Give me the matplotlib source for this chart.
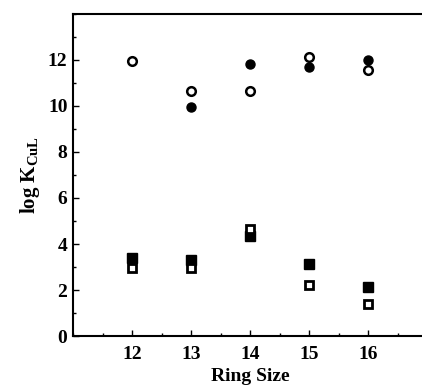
import matplotlib
matplotlib.use("Agg")
import matplotlib.pyplot as plt
from matplotlib.ticker import MultipleLocator

ring_size = [12, 13, 14, 15, 16]
circle_open = [11.95, 10.65, 10.65, 12.13, 11.55]
circle_filled_x = [13, 14, 15, 16]
circle_filled = [9.94, 11.84, 11.71, 11.99]
square_filled = [3.38, 3.30, 4.35, 3.12, 2.12]
square_open = [2.97, 2.97, 4.64, 2.22, 1.39]

plt.rcParams["font.family"] = ["Liberation Serif", "DejaVu Serif"]
plt.rcParams["font.weight"] = "bold"
plt.rcParams["mathtext.fontset"] = "custom"
plt.rcParams["mathtext.rm"] = "Liberation Serif:bold"
plt.rcParams["mathtext.it"] = "Liberation Serif:bold"
plt.rcParams["mathtext.bf"] = "Liberation Serif:bold"

fig = plt.figure(figsize=(4.22, 3.85), dpi=100)
ax = fig.add_axes([0.173, 0.127, 0.84, 0.837])

ax.plot(ring_size, square_filled, "s", ms=7, color="black", mec="black", zorder=2)
ax.plot(ring_size, square_open, "s", ms=5.3, mfc="white", mec="black", mew=2, zorder=3)
ax.plot(circle_filled_x, circle_filled, "o", ms=6.5, color="black", zorder=2)
ax.plot(ring_size, circle_open, "o", ms=6.2, mfc="white", mec="black", mew=1.8, zorder=3)

ax.set_xlim(11, 17)
ax.set_ylim(0, 14)
ax.set_xticks(ring_size)
ax.set_yticks([0, 2, 4, 6, 8, 10, 12])
ax.xaxis.set_minor_locator(MultipleLocator(0.5))
ax.yaxis.set_minor_locator(MultipleLocator(1))
ax.tick_params(which="both", direction="in", labelsize=14, width=1)
ax.tick_params(which="major", length=4)
ax.tick_params(which="minor", length=2)
ax.tick_params(axis="x", pad=7)
ax.tick_params(axis="y", pad=4)
for lab in ax.get_xticklabels() + ax.get_yticklabels():
    lab.set_fontweight("bold")

for side in ["left", "bottom", "top", "right"]:
    ax.spines[side].set_linewidth(1.5)

ax.set_xlabel("Ring Size", fontsize=14, fontweight="bold", labelpad=4)
ax.set_ylabel(r"log K$_{\mathrm{CuL}}$", fontsize=15, fontweight="bold", labelpad=4)

fig.savefig("out.png", dpi=100)
